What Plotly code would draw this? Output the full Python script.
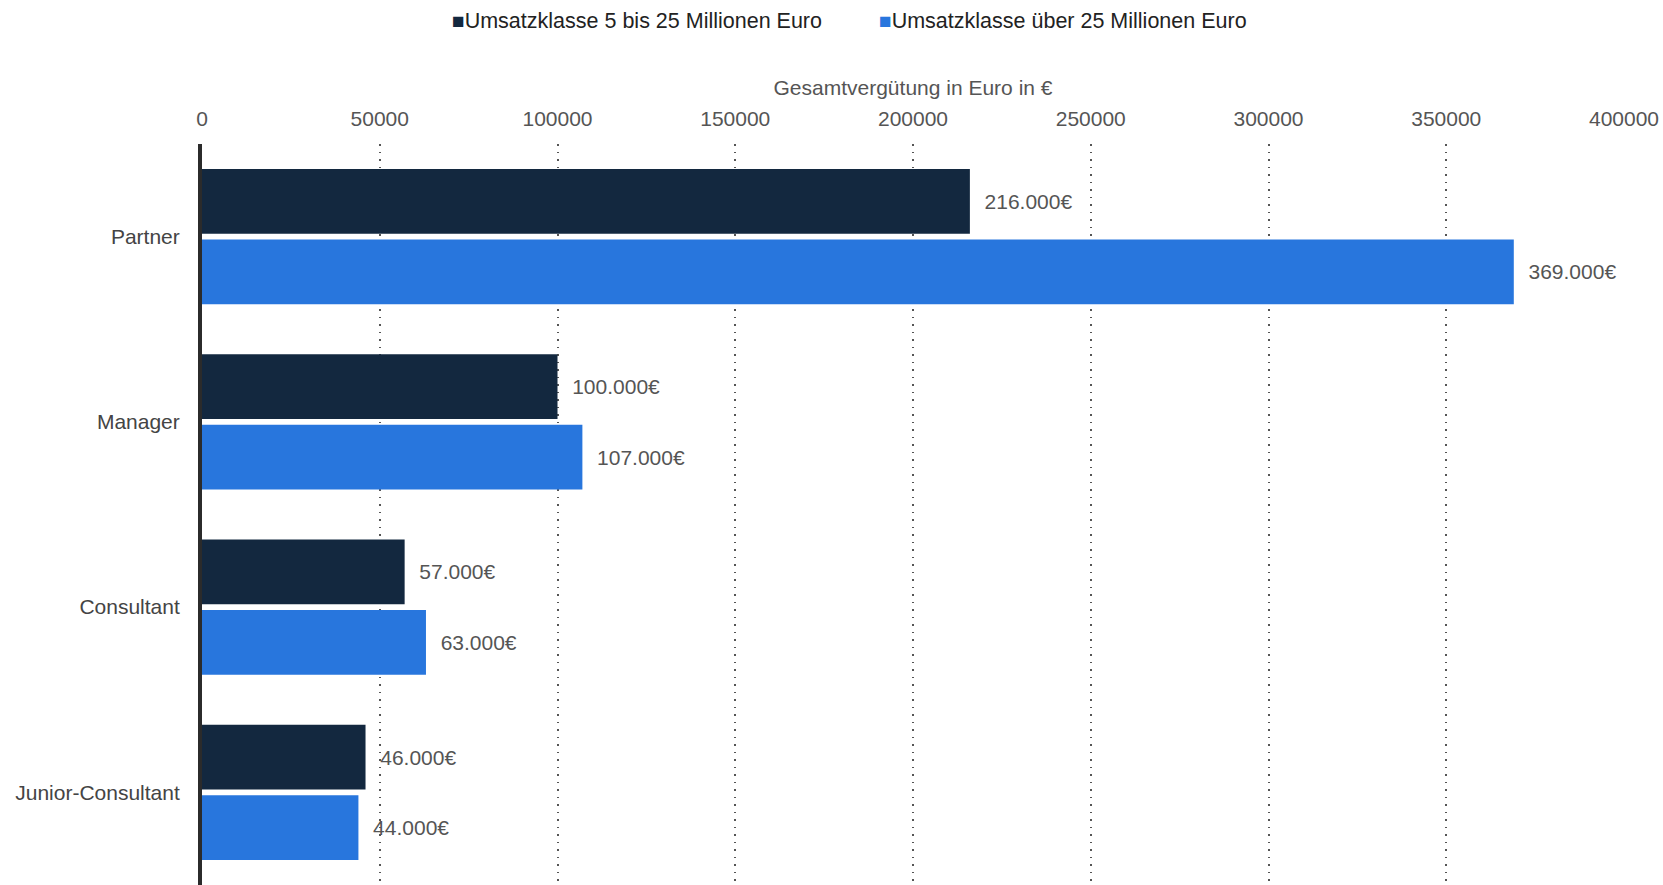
import plotly.graph_objects as go

categories = ["Partner", "Manager", "Consultant", "Junior-Consultant"]
series_names = ["Umsatzklasse 5 bis 25 Millionen Euro", "Umsatzklasse über 25 Millionen Euro"]
values_small = [216000, 100000, 57000, 46000]
values_large = [369000, 107000, 63000, 44000]
tick_values = [0, 50000, 100000, 150000, 200000, 250000, 300000, 350000, 400000]
axis_title = "Gesamtvergütung in Euro in €"

colors = ["#13283f", "#2876dd"]
FONT = "Liberation Sans, Arial, sans-serif"
FS = 21

W, H = 1663, 885
ML, MR, MT, MB = 202, 39, 144, 0

fig = go.Figure()
for name, vals, col in zip(series_names, [values_small, values_large], colors):
    fig.add_trace(go.Bar(
        y=categories, x=vals, name=name, orientation="h",
        marker=dict(color=col, line=dict(width=0)),
        text=["  " + f"{v:,.0f}".replace(",", ".") + "€" for v in vals],
        textposition="outside", cliponaxis=False,
        textfont=dict(family=FONT, size=FS, color="#555555"),
        showlegend=False, hoverinfo="skip",
    ))

# legend drawn as annotations (square + text)
pw = W - ML - MR
ph = H - MT - MB
legend_x = [450, 877]
annotations = []
for name, col, px in zip(series_names, colors, legend_x):
    annotations.append(dict(
        xref="paper", yref="paper", x=(px - ML) / pw, y=(H - 21 - MB) / ph,
        xanchor="left", yanchor="middle", showarrow=False,
        text=f"<span style='color:{col};font-size:21px'>■</span>{name}",
        font=dict(family=FONT, size=21.5, color="#222222"),
    ))

fig.update_layout(
    width=W, height=H,
    margin=dict(l=ML, r=MR, t=MT, b=MB, autoexpand=False),
    paper_bgcolor="white", plot_bgcolor="white",
    barmode="group", bargap=0.24, bargroupgap=0.08,
    annotations=annotations,
    font=dict(family=FONT),
    xaxis=dict(
        side="top", range=[0, 400000], tickvals=tick_values, tickformat="d",
        showgrid=True, gridcolor="#555555", griddash="1.5px,6px", gridwidth=1.5,
        zeroline=False, showline=False, ticks="", automargin=False,
        tickfont=dict(family=FONT, size=FS, color="#555555"),
        ticklabelstandoff=13,
        title=dict(text=axis_title, font=dict(family=FONT, size=FS, color="#555555"), standoff=5),
    ),
    yaxis=dict(
        autorange="reversed", showgrid=False, zeroline=False,
        showline=True, linecolor="#2b2b2b", linewidth=4,
        ticks="", automargin=False,
        tickfont=dict(family=FONT, size=FS, color="#444444"),
        ticklabelstandoff=14,
    ),
)

fig.write_html(
    "out.html",
    config={"displayModeBar": False},
    post_script="document.body.style.margin='0';document.body.style.overflow='hidden';",
)
